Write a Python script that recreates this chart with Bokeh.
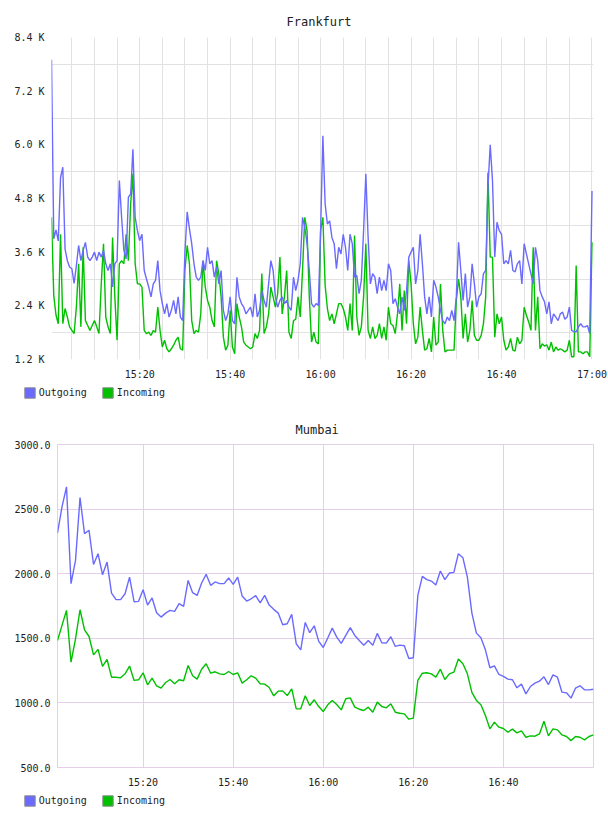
from datetime import datetime, timedelta

from bokeh.embed import file_html
from bokeh.models import (ColumnDataSource, DatetimeTickFormatter, FixedTicker, Grid,
                          Legend, LegendItem, NumeralTickFormatter, PrintfTickFormatter,
                          Range1d)
from bokeh.plotting import figure
from bokeh.resources import INLINE

# ---------------------------------------------------------------- data
# Frankfurt: traffic in K, one sample every 30 s starting 15:00:30
frankfurt_out = [
    7.9, 3.9, 4.1, 3.85, 5.27, 5.5, 3.67, 3.41, 3.27, 3.23,
    2.9, 3.3, 3.75, 3.41, 3.64, 3.82, 3.49, 3.41, 3.49, 3.6,
    3.41, 3.6, 3.49, 3.64, 3.34, 3.19, 3.34, 2.82, 3.34, 3.41,
    5.2, 4.38, 3.64, 3.45, 4.83, 4.9, 5.9, 4.38, 4.08, 3.86,
    4.0, 3.19, 3.0, 2.82, 2.6, 2.89, 2.97, 3.41, 2.74, 2.45,
    2.22, 2.45, 2.15, 2.3, 2.52, 2.22, 2.6, 2.15, 2.07, 3.6,
    4.5, 4.12, 3.79, 3.34, 3.04, 2.97, 3.04, 3.41, 3.19, 3.71,
    3.34, 3.41, 3.04, 3.27, 2.89, 3.19, 2.3, 2.07, 2.22, 2.6,
    2.07, 2.0, 3.04, 2.6, 2.45, 2.37, 2.22, 2.3, 2.37, 2.15,
    2.67, 2.15, 2.3, 2.74, 2.52, 2.37, 2.89, 3.41, 3.19, 2.6,
    2.37, 2.52, 2.6, 2.45, 2.52, 2.37, 2.3, 3.04, 2.74, 2.97,
    3.34, 4.38, 4.16, 3.79, 3.19, 2.45, 2.37, 2.45, 2.41, 4.08,
    6.2, 4.68, 4.23, 4.3, 3.93, 3.79, 3.23, 3.71, 3.56, 4.0,
    3.71, 3.19, 4.0, 3.79, 3.04, 3.08, 2.67, 2.97, 4.08, 5.35,
    3.93, 2.89, 3.12, 3.04, 2.67, 3.04, 2.74, 2.97, 2.74, 3.34,
    3.19, 2.45, 2.56, 2.37, 2.22, 2.6, 2.3, 2.74, 3.49, 3.6,
    3.71, 2.89, 3.19, 4.0, 3.34, 2.6, 2.22, 2.6, 2.15, 2.97,
    2.82, 2.6, 2.3, 2.07, 2.0, 2.15, 2.07, 2.3, 2.07, 2.6,
    3.82, 3.19, 2.52, 3.12, 2.37, 2.6, 3.34, 2.89, 2.37, 2.6,
    2.67, 3.12, 3.19, 5.05, 6.0, 5.2, 3.49, 4.27, 4.08, 4.0,
    3.34, 3.41, 3.34, 3.64, 3.19, 3.16, 3.34, 3.41, 2.89, 3.79,
    3.56, 3.34, 3.12, 2.89, 3.71, 3.41, 2.74, 2.6, 2.49, 2.22,
    2.49, 2.0, 2.22, 2.15, 2.07, 2.22, 2.26, 2.1, 2.15, 2.37,
    1.85, 1.82, 1.82, 1.93, 2.0, 1.93, 1.93, 1.96, 1.78, 4.97,
]
frankfurt_in = [
    4.38, 2.63, 2.19, 2.0, 4.0, 2.0, 2.34, 2.15, 1.93, 1.85,
    1.78, 2.37, 3.34, 1.93, 3.71, 2.07, 1.96, 1.85, 1.96, 2.07,
    1.93, 1.78, 2.89, 3.79, 2.15, 1.93, 1.78, 3.93, 2.6, 1.63,
    3.34, 3.41, 3.34, 4.0, 3.41, 4.68, 5.35, 3.34, 2.89, 2.89,
    2.82, 1.85, 1.78, 1.81, 1.74, 1.85, 1.81, 2.37, 1.85, 1.48,
    1.63, 1.44, 1.37, 1.44, 1.52, 1.63, 1.7, 1.44, 1.41, 3.2,
    3.75, 3.34, 2.07, 1.78, 1.85, 1.81, 2.22, 3.41, 2.82, 2.52,
    2.37, 2.07, 1.93, 3.41, 3.12, 2.6, 1.7, 1.41, 1.52, 2.3,
    1.48, 1.33, 2.45, 2.15, 1.93, 1.59, 1.52, 1.48, 1.44, 1.48,
    1.78, 1.67, 1.85, 3.12, 1.78, 1.93, 2.22, 2.82, 2.6, 2.37,
    2.67, 3.49, 2.22, 2.6, 3.19, 1.81, 1.67, 2.07, 2.1, 2.6,
    2.15, 3.19, 4.38, 4.08, 2.6, 1.59, 1.81, 1.59, 1.55, 4.08,
    4.38, 2.86, 2.34, 2.07, 2.22, 2.0, 2.22, 2.45, 2.45, 2.34,
    2.15, 1.85, 2.45, 1.85, 3.97, 2.15, 1.74, 1.93, 2.6, 3.79,
    1.85, 1.67, 1.93, 1.67, 1.74, 2.0, 1.67, 1.93, 1.63, 2.37,
    2.0, 1.96, 1.78, 2.22, 2.89, 1.85, 2.74, 2.0, 3.41, 2.89,
    2.0, 1.55, 1.7, 2.37, 1.85, 1.41, 1.44, 1.67, 1.37, 2.15,
    1.52, 1.59, 2.89, 1.85, 1.37, 1.41, 1.41, 1.41, 1.41, 2.52,
    3.0, 2.6, 1.67, 2.22, 1.59, 1.85, 2.52, 1.74, 1.63, 1.63,
    1.74, 2.0, 2.6, 5.38, 3.49, 3.49, 1.7, 2.22, 2.0, 2.15,
    1.63, 1.41, 1.48, 1.67, 1.41, 1.39, 1.7, 1.55, 1.63, 2.37,
    2.19, 2.04, 1.85, 3.71, 1.85, 2.6, 1.44, 1.55, 1.5, 1.53,
    1.41, 1.59, 1.37, 1.48, 1.41, 1.44, 1.41, 1.37, 1.41, 1.63,
    1.26, 1.26, 3.3, 1.37, 1.37, 1.33, 1.37, 1.37, 1.26, 3.82,
]

# Mumbai: one sample per minute starting 15:01
mumbai_out = [
    2315, 2517, 2672, 1923, 2103, 2589, 2310, 2336, 2072, 2155,
    1992, 2090, 1850, 1799, 1799, 1845, 1974, 1783, 1786, 1876,
    1757, 1812, 1698, 1664, 1695, 1716, 1708, 1768, 1747, 1948,
    1853, 1832, 1928, 1995, 1910, 1936, 1923, 1923, 1967, 1918,
    1974, 1827, 1788, 1806, 1830, 1775, 1832, 1757, 1724, 1695,
    1605, 1613, 1685, 1458, 1411, 1623, 1543, 1597, 1476, 1429,
    1502, 1579, 1509, 1460, 1522, 1582, 1522, 1483, 1447, 1483,
    1447, 1538, 1465, 1463, 1512, 1437, 1447, 1442, 1344, 1349,
    1832, 1979, 1954, 1943, 1912, 2021, 1954, 2005, 2010, 2155,
    2124, 1974, 1695, 1540, 1504, 1411, 1272, 1287, 1220, 1205,
    1184, 1179, 1117, 1145, 1070, 1127, 1153, 1168, 1202, 1142,
    1217, 1199, 1083, 1078, 1037, 1114, 1132, 1101, 1101, 1106,
]
mumbai_in = [
    1483, 1600, 1716, 1316, 1496, 1721, 1566, 1514, 1372, 1414,
    1282, 1336, 1199, 1199, 1194, 1225, 1285, 1174, 1179, 1233,
    1140, 1192, 1132, 1114, 1158, 1181, 1148, 1179, 1171, 1290,
    1210, 1184, 1261, 1303, 1230, 1241, 1225, 1220, 1243, 1220,
    1233, 1153, 1179, 1210, 1192, 1148, 1145, 1119, 1055, 1091,
    1093, 1057, 1109, 954, 954, 1055, 980, 1024, 972, 933,
    985, 1019, 988, 946, 1032, 1039, 967, 951, 941, 967,
    928, 1006, 972, 962, 993, 928, 920, 915, 874, 882,
    1174, 1230, 1233, 1225, 1199, 1261, 1181, 1225, 1238, 1339,
    1303, 1225, 1081, 1019, 985, 902, 799, 851, 812, 802,
    773, 797, 768, 784, 734, 745, 742, 760, 858, 745,
    799, 791, 752, 740, 708, 740, 734, 714, 740, 752,
]

series_names = ["Outgoing", "Incoming"]
frankfurt_time_labels = ["15:20", "15:40", "16:00", "16:20", "16:40", "17:00"]
mumbai_time_labels = ["15:20", "15:40", "16:00", "16:20", "16:40"]
frankfurt_y_labels = [1.2, 2.4, 3.6, 4.8, 6.0, 7.2, 8.4]
frankfurt_y_grid = [1.8, 3.0, 4.2, 5.4, 6.6, 7.8]
mumbai_y_labels = [500, 1000, 1500, 2000, 2500, 3000]
mumbai_y_minor = [750, 1250, 1750, 2250, 2750]

# ---------------------------------------------------------------- style
FONT = "DejaVu Sans Mono"
TEXT = "#222222"
BLUE = "#6a6aff"
GREEN = "#00c000"
GRID_GRAY = "#e2e2e2"
GRID_PINK = "#e4cfe8"
WIDTH = 608

DAY = datetime(2024, 1, 1)
EPOCH = datetime(1970, 1, 1)


def at(hhmm, seconds=0):
    h, m = (int(v) for v in hhmm.split(":"))
    return DAY + timedelta(hours=h, minutes=m, seconds=seconds)


def to_ms(dt):
    return (dt - EPOCH).total_seconds() * 1000.0


def every(start, stop, minutes):
    out, t = [], start
    while t <= stop:
        out.append(to_ms(t))
        t += timedelta(minutes=minutes)
    return out


def style_axes(p, x_ticks, y_ticks, y_formatter, y_standoff):
    xa, ya = p.xaxis[0], p.yaxis[0]
    xa.ticker = FixedTicker(ticks=x_ticks)
    xa.formatter = DatetimeTickFormatter(minsec="%H:%M", minutes="%H:%M",
                                         hourmin="%H:%M", hours="%H:%M")
    ya.ticker = FixedTicker(ticks=y_ticks)
    ya.formatter = y_formatter
    for ax in (xa, ya):
        ax.axis_line_color = None
        ax.major_tick_line_color = None
        ax.minor_tick_line_color = None
        ax.major_tick_in = 0
        ax.major_tick_out = 0
        ax.minor_tick_in = 0
        ax.minor_tick_out = 0
        ax.major_label_text_font = FONT
        ax.major_label_text_font_size = "10px"
        ax.major_label_text_color = TEXT
    xa.major_label_standoff = 9
    ya.major_label_standoff = y_standoff


def legend_strip():
    """A thin full-width strip holding the series key under a chart."""
    s = figure(width=WIDTH, height=24, output_backend="svg", toolbar_location=None,
               x_range=Range1d(0, 1), y_range=Range1d(0, 1),
               x_axis_location=None, y_axis_location=None,
               min_border=0, min_border_left=0, min_border_right=0,
               min_border_top=0, min_border_bottom=0)
    s.title.visible = False
    s.outline_line_color = None
    s.xgrid.visible = False
    s.ygrid.visible = False
    s.background_fill_color = "white"
    s.border_fill_color = "white"
    # swatch glyphs sit outside the strip's ranges; only their key entries show
    sw_out = s.quad(left=[5], right=[6], top=[6], bottom=[5], fill_color=BLUE,
                    line_color="#8a8a8a", line_width=1)
    sw_in = s.quad(left=[5], right=[6], top=[6], bottom=[5], fill_color=GREEN,
                   line_color="#8a8a8a", line_width=1)
    legend = Legend(items=[LegendItem(label=series_names[0], renderers=[sw_out]),
                           LegendItem(label=series_names[1], renderers=[sw_in])],
                    orientation="horizontal", location=(22.7, 9),
                    glyph_width=13, glyph_height=13, label_height=13, label_width=10,
                    label_standoff=3, spacing=14, padding=0, margin=0,
                    border_line_color=None, background_fill_alpha=0,
                    label_text_font=FONT, label_text_font_size="10px",
                    label_text_color=TEXT)
    s.add_layout(legend, "center")
    return s


def base_figure(title, x_start, x_end, y_start, y_end, left, top, title_gap, title_x):
    p = figure(width=WIDTH, height=384, x_axis_type="datetime",
               output_backend="svg", toolbar_location=None,
               x_range=Range1d(x_start, x_end), y_range=Range1d(y_start, y_end),
               min_border_left=left, min_border_right=15,
               min_border_top=top, min_border_bottom=25)
    p.title.text = title
    p.title.align = "left"
    p.title.offset = title_x
    p.title.standoff = title_gap
    p.title.text_font = FONT
    p.title.text_font_size = "12px"
    p.title.text_font_style = "normal"
    p.title.text_color = TEXT
    p.background_fill_color = "white"
    p.border_fill_color = "white"
    return p


# ---------------------------------------------------------------- Frankfurt
f_start = at("15:00", 30)
f_times = [f_start + timedelta(seconds=30 * i) for i in range(len(frankfurt_out))]
fsrc = ColumnDataSource(dict(t=f_times, out=frankfurt_out, inc=frankfurt_in))

p1 = base_figure("Frankfurt", f_start, at("17:00", 20), 1.2, 8.4, 51, 37, 17, 235)
p1.outline_line_color = None
style_axes(p1, [to_ms(at(s)) for s in frankfurt_time_labels], frankfurt_y_labels,
           PrintfTickFormatter(format="%.1f K"), 7)
p1.xgrid.ticker = FixedTicker(ticks=every(at("15:05"), at("17:00"), 5))
p1.xgrid.grid_line_color = GRID_GRAY
p1.ygrid.ticker = FixedTicker(ticks=frankfurt_y_grid)
p1.ygrid.grid_line_color = GRID_GRAY

p1.line("t", "inc", source=fsrc, line_color=GREEN, line_width=1.4)
p1.line("t", "out", source=fsrc, line_color=BLUE, line_width=1.4)

# ---------------------------------------------------------------- Mumbai
m_start = at("15:01")
m_times = [m_start + timedelta(minutes=i) for i in range(len(mumbai_out))]
msrc = ColumnDataSource(dict(t=m_times, out=mumbai_out, inc=mumbai_in))

p2 = base_figure("Mumbai", m_start, at("17:00"), 500, 3000, 57, 36, 16, 238)
p2.outline_line_color = GRID_PINK
p2.outline_line_width = 1
style_axes(p2, [to_ms(at(s)) for s in mumbai_time_labels], mumbai_y_labels,
           NumeralTickFormatter(format="0.0"), 7)

major_x = [to_ms(at(s)) for s in mumbai_time_labels]
minor_x = [v for v in every(at("15:05"), at("16:55"), 5) if v not in major_x]
p2.add_layout(Grid(dimension=0, ticker=FixedTicker(ticks=minor_x),
                   grid_line_color=GRID_GRAY))
p2.add_layout(Grid(dimension=1, ticker=FixedTicker(ticks=mumbai_y_minor),
                   grid_line_color=GRID_GRAY))
p2.xgrid.ticker = FixedTicker(ticks=major_x)
p2.xgrid.grid_line_color = GRID_PINK
p2.ygrid.ticker = FixedTicker(ticks=mumbai_y_labels[1:-1])
p2.ygrid.grid_line_color = GRID_PINK

p2.line("t", "out", source=msrc, line_color=BLUE, line_width=1.4)
p2.line("t", "inc", source=msrc, line_color=GREEN, line_width=1.4)

# independent roots stacked by the page, so each chart keeps its own frame
open("out.html", "w").write(file_html([p1, legend_strip(), p2, legend_strip()], INLINE))
